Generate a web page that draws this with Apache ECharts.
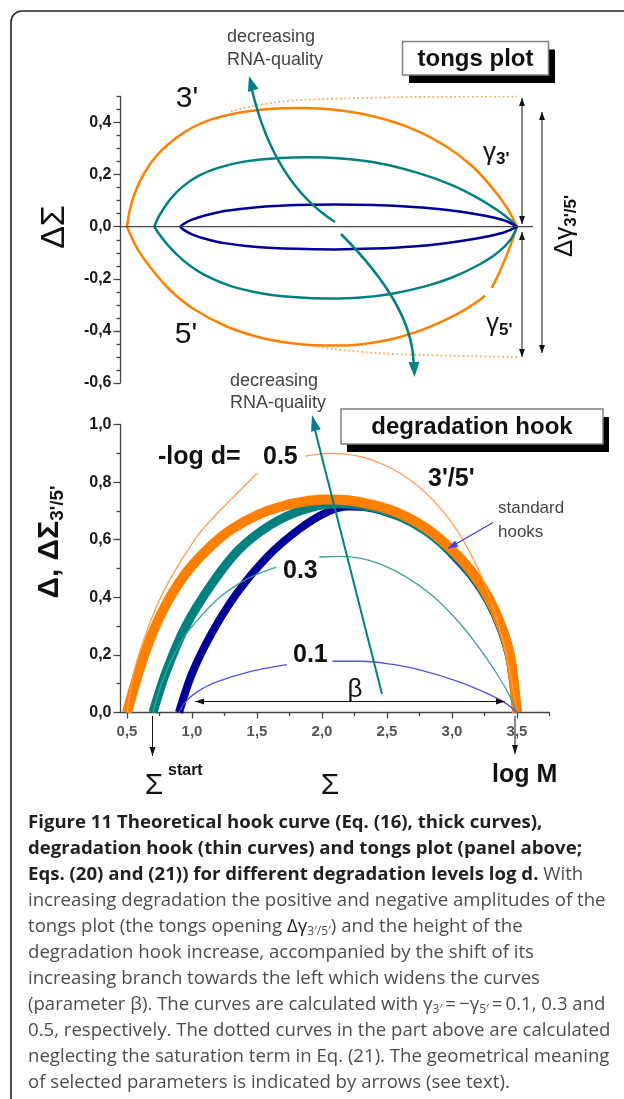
<!DOCTYPE html>
<html>
<head>
<meta charset="utf-8">
<script src="https://cdn.jsdelivr.net/npm/echarts@6/dist/echarts.min.js"></script>
<style>
  html, body { margin: 0; padding: 0; background: #fff; }
  #chart { width: 624px; height: 1099px; }
</style>
</head>
<body>
<div id="chart"></div>
<script>
// ---- tongs plot (upper panel) ----
var tongsOrangeUpX = [0.5, 0.52, 0.55, 0.6, 0.67, 0.76, 0.88, 1.0, 1.15, 1.35, 1.6, 1.85, 2.1, 2.4, 2.7, 2.95, 3.15, 3.3, 3.42, 3.5];
var tongsOrangeUpY = [0, 0.06, 0.115, 0.175, 0.235, 0.29, 0.342, 0.38, 0.412, 0.437, 0.452, 0.456, 0.449, 0.423, 0.375, 0.31, 0.235, 0.155, 0.075, 0];
var tongsOrangeDownX = [0.5, 0.53, 0.58, 0.677, 0.831, 1.01, 1.267, 1.523, 1.75, 1.95, 2.15, 2.35, 2.55, 2.75, 2.95, 3.1, 3.215, 3.255, 3.28, 3.305, 3.36, 3.42, 3.47, 3.5];
var tongsOrangeDownY = [0, -0.035, -0.085, -0.155, -0.243, -0.315, -0.383, -0.425, -0.446, -0.455, -0.456, -0.448, -0.43, -0.4, -0.358, -0.318, -0.28, -0.264, null, -0.235, -0.18, -0.11, -0.045, 0];
var tongsDotUpX = [1.3, 1.45, 1.65, 1.85, 2.2, 2.6, 3.0, 3.5];
var tongsDotUpY = [0.443, 0.462, 0.478, 0.487, 0.493, 0.497, 0.499, 0.5];
var tongsDotDownX = [1.9, 2.1, 2.45, 2.8, 3.15, 3.5];
var tongsDotDownY = [-0.455, -0.47, -0.486, -0.493, -0.497, -0.5];
var tongsTealUpX = [0.71, 0.74, 0.78, 0.84, 0.93, 1.05, 1.2, 1.4, 1.65, 1.9, 2.15, 2.45, 2.75, 3.0, 3.2, 3.35, 3.45, 3.5];
var tongsTealUpY = [0, 0.035, 0.068, 0.11, 0.155, 0.195, 0.226, 0.25, 0.263, 0.267, 0.262, 0.243, 0.205, 0.16, 0.11, 0.063, 0.025, 0];
var tongsTealDownX = [0.71, 0.75, 0.8, 0.88, 0.98, 1.1, 1.3, 1.55, 1.8, 2.05, 2.3, 2.55, 2.8, 3.0, 3.2, 3.35, 3.45, 3.5];
var tongsTealDownY = [0, -0.03, -0.062, -0.105, -0.148, -0.186, -0.228, -0.257, -0.271, -0.276, -0.272, -0.256, -0.228, -0.195, -0.148, -0.1, -0.05, 0];
var tongsBlueUpX = [0.908, 0.94, 1.0, 1.1, 1.25, 1.5, 1.8, 2.1, 2.4, 2.7, 2.95, 3.2, 3.4, 3.5];
var tongsBlueUpY = [0, 0.012, 0.027, 0.043, 0.06, 0.075, 0.083, 0.085, 0.083, 0.076, 0.065, 0.047, 0.025, 0];
var tongsBlueDownX = [0.908, 0.94, 1.0, 1.1, 1.25, 1.5, 1.8, 2.1, 2.4, 2.7, 2.95, 3.2, 3.4, 3.5];
var tongsBlueDownY = [0, -0.013, -0.029, -0.046, -0.063, -0.078, -0.085, -0.087, -0.084, -0.076, -0.063, -0.044, -0.022, 0];

// ---- degradation hook (lower panel) ----
var hookThickOrangeX = [0.5, 0.6, 0.7, 0.8, 0.9, 1.0, 1.15, 1.3, 1.5, 1.7, 1.9, 2.05, 2.2, 2.4, 2.6, 2.8, 3.0, 3.15, 3.28, 3.38, 3.45, 3.5];
var hookThickOrangeY = [0, 0.155, 0.28, 0.375, 0.45, 0.51, 0.58, 0.635, 0.685, 0.717, 0.735, 0.74, 0.737, 0.72, 0.69, 0.64, 0.565, 0.49, 0.4, 0.3, 0.19, 0];
var hookThickTealX = [0.7, 0.8, 0.95, 1.15, 1.36, 1.6, 1.85, 2.1, 2.25, 2.4, 2.6, 2.8, 3.0, 3.15, 3.28, 3.38, 3.45, 3.5];
var hookThickTealY = [0, 0.14, 0.298, 0.445, 0.565, 0.65, 0.703, 0.725, 0.722, 0.71, 0.68, 0.63, 0.555, 0.48, 0.39, 0.29, 0.18, 0];
var hookThickBlueX = [0.9, 1.0, 1.15, 1.345, 1.58, 1.82, 2.05, 2.2, 2.35, 2.5, 2.7, 2.85, 3.0, 3.15, 3.28, 3.38, 3.45, 3.5];
var hookThickBlueY = [0, 0.135, 0.274, 0.414, 0.541, 0.635, 0.698, 0.715, 0.712, 0.695, 0.66, 0.615, 0.55, 0.475, 0.385, 0.285, 0.175, 0];
var hookThinOrangeX = [0.5, 0.55, 0.65, 0.77, 0.92, 1.08, 1.3, 1.5, 1.68, 1.87, 2.05, 2.28, 2.5, 2.7, 2.9, 3.05, 3.2, 3.32, 3.42, 3.5];
var hookThinOrangeY = [0, 0.135, 0.28, 0.41, 0.53, 0.635, 0.74, 0.83, null, 0.89, 0.9, 0.89, 0.855, 0.8, 0.715, 0.625, 0.5, 0.36, 0.2, 0];
var hookThinTealX = [0.7, 0.75, 0.8, 0.85, 0.95, 1.06, 1.2, 1.35, 1.5, 1.65, 1.8, 1.98, 2.15, 2.3, 2.45, 2.65, 2.85, 3.05, 3.2, 3.33, 3.43, 3.5];
var hookThinTealY = [0, 0.08, 0.14, 0.19, 0.27, 0.33, 0.395, 0.445, 0.48, 0.505, null, 0.54, 0.542, 0.535, 0.515, 0.47, 0.405, 0.315, 0.23, 0.145, 0.07, 0];
var hookThinBlueX = [0.9, 0.946, 1.05, 1.19, 1.446, 1.73, 1.9, 2.08, 2.3, 2.5, 2.738, 3.045, 3.29, 3.42, 3.5];
var hookThinBlueY = [0, 0.035, 0.075, 0.106, 0.142, 0.166, null, 0.178, 0.178, 0.17, 0.15, 0.108, 0.062, 0.03, 0];

// ---- ticks ----
var xMajorTicks = [0.5, 1.0, 1.5, 2.0, 2.5, 3.0, 3.5];
var xMinorTicks = [0.75, 1.25, 1.75, 2.25, 2.75, 3.25, 3.75];
var tongsMajorTicks = [-0.6, -0.4, -0.2, 0, 0.2, 0.4];
var tongsMinorTicks = [-0.55, -0.5, -0.45, -0.35, -0.3, -0.25, -0.15, -0.1, -0.05, 0.05, 0.1, 0.15, 0.25, 0.3, 0.35, 0.45, 0.5];
var hookMajorTicks = [0, 0.2, 0.4, 0.6, 0.8, 1.0];
var hookMinorTicks = [0.1, 0.3, 0.5, 0.7, 0.9];

var captionLines = [
  '{b|Figure 11 Theoretical hook curve (Eq. (16), thick curves),}',
  '{b|degradation hook (thin curves) and tongs plot (panel above;}',
  '{b|Eqs. (20) and (21)) for different degradation levels log d.} With',
  'increasing degradation the positive and negative amplitudes of the',
  'tongs plot (the tongs opening {d|Δγ}{s|3′/5′}) and the height of the',
  'degradation hook increase, accompanied by the shift of its',
  'increasing branch towards the left which widens the curves',
  '(parameter β). The curves are calculated with γ{s|3′}\u2009=\u2009−γ{s|5′}\u2009=\u20090.1, 0.3 and',
  '0.5, respectively. The dotted curves in the part above are calculated',
  'neglecting the saturation term in Eq. (21). The geometrical meaning',
  'of selected parameters is indicated by arrows (see text).'
];

var ORANGE = '#ff8000', TEAL = '#008080', BLUE = '#000099';
var FONT = 'Liberation Sans';
var CAP = 18.6;

function pairs(xs, ys) {
  return xs.map(function (x, i) { return [x, ys[i]]; });
}

function curve(xs, ys, color, width, upper, opts) {
  opts = opts || {};
  return {
    type: 'line',
    xAxisIndex: upper ? 0 : 1,
    yAxisIndex: upper ? 0 : 2,
    data: pairs(xs, ys),
    showSymbol: false,
    symbol: 'none',
    smooth: 0.3,
    connectNulls: false,
    z: opts.z || 2,
    lineStyle: { color: color, width: width, type: opts.type || 'solid', cap: opts.cap || 'butt' },
    silent: true
  };
}

function commaFmt(v) {
  return v.toFixed(1).replace('.', ',');
}

function arrowHead(tip, from, len, hw, color) {
  var dx = tip[0] - from[0], dy = tip[1] - from[1];
  var d = Math.sqrt(dx * dx + dy * dy);
  dx /= d; dy /= d;
  var bx = tip[0] - dx * len, by = tip[1] - dy * len;
  return {
    type: 'polygon', z: 60,
    shape: { points: [tip, [bx - dy * hw, by + dx * hw], [bx + dy * hw, by - dx * hw]] },
    style: { fill: color }
  };
}

function arrow(p1, p2, color, width, both, len, hw) {
  var out = [{
    type: 'line', z: 60,
    shape: { x1: p1[0], y1: p1[1], x2: p2[0], y2: p2[1] },
    style: { stroke: color, lineWidth: width }
  }];
  out.push(arrowHead(p2, p1, len, hw, color));
  if (both) out.push(arrowHead(p1, p2, len, hw, color));
  return out;
}

function text(x, y, str, size, opts) {
  opts = opts || {};
  return {
    type: 'text', x: x, y: y, z: 70,
    rotation: opts.rotation || 0,
    style: {
      text: str,
      fontSize: size,
      fontFamily: opts.family || FONT,
      fontWeight: opts.weight || 'normal',
      fill: opts.color || '#111',
      align: opts.align || 'left',
      verticalAlign: 'middle',
      rich: opts.rich
    }
  };
}

var graphics = [];
// frame
graphics.push({ type: 'rect', z: 1, shape: { x: 11, y: 11, width: 700, height: 1200, r: 11 },
  style: { fill: 'none', stroke: '#222', lineWidth: 1.6 } });

// title boxes with drop shadow
graphics.push({ type: 'rect', z: 50, shape: { x: 409, y: 49.5, width: 146, height: 33.5 }, style: { fill: '#000' } });
graphics.push({ type: 'rect', z: 51, shape: { x: 402.5, y: 41.5, width: 146, height: 33.5 }, style: { fill: '#fff', stroke: '#808080', lineWidth: 1.5 } });
graphics.push(text(475.5, 59, 'tongs plot', 24, { weight: 'bold', align: 'center' }));
graphics.push({ type: 'rect', z: 50, shape: { x: 347, y: 417, width: 262, height: 35 }, style: { fill: '#000' } });
graphics.push({ type: 'rect', z: 51, shape: { x: 341, y: 409, width: 262, height: 35 }, style: { fill: '#fff', stroke: '#808080', lineWidth: 1.5 } });
graphics.push(text(472, 427, 'degradation hook', 24, { weight: 'bold', align: 'center' }));

// upper panel annotations
graphics.push({ type: 'line', z: 5, shape: { x1: 121, y1: 226.7, x2: 533, y2: 226.7 }, style: { stroke: '#444', lineWidth: 1.2 } });
graphics.push(text(227, 37, 'decreasing', 18, { color: '#444' }));
graphics.push(text(227, 60, 'RNA-quality', 18, { color: '#444' }));
graphics.push({ type: 'bezierCurve', z: 60, shape: { x1: 335, y1: 222, cpx1: 274, cpy1: 183, x2: 252, y2: 90 },
  style: { stroke: TEAL, lineWidth: 2.5, fill: 'none' } });
graphics.push(arrowHead([249, 76], [256, 100], 15, 5.5, TEAL));
graphics.push({ type: 'bezierCurve', z: 60, shape: { x1: 341, y1: 234, cpx1: 412, cpy1: 305, x2: 413.5, y2: 362 },
  style: { stroke: TEAL, lineWidth: 2.5, fill: 'none' } });
graphics.push(arrowHead([414.5, 377], [413.5, 350], 15, 5.5, TEAL));
arrow([522, 98], [522, 224], '#111', 1, true, 8, 3).forEach(function (g) { graphics.push(g); });
arrow([522, 232], [522, 357], '#111', 1, true, 8, 3).forEach(function (g) { graphics.push(g); });
arrow([542, 112], [542, 353], '#111', 1, true, 8, 3).forEach(function (g) { graphics.push(g); });
var gRich = {
  g: { fontSize: 26, fontFamily: FONT, fill: '#111', lineHeight: 30 },
  s: { fontSize: 17, fontFamily: FONT, fontWeight: 'bold', fill: '#111', lineHeight: 17, padding: [13, 0, 0, 0] }
};
graphics.push(text(483, 153, '{g|γ}{s|3\'}', 26, { rich: gRich }));
graphics.push(text(486, 324, '{g|γ}{s|5\'}', 26, { rich: gRich }));
graphics.push(text(565, 226, '{g|Δγ}{s|3\'/5\'}', 26, { rich: gRich, rotation: Math.PI / 2, align: 'center' }));
graphics.push(text(187, 99, '3\'', 30, { align: 'center' }));
graphics.push(text(186, 335, '5\'', 30, { align: 'center' }));
graphics.push(text(55, 227, 'ΔΣ', 34, { align: 'center', rotation: Math.PI / 2 }));

// lower panel annotations
graphics.push(text(230, 381, 'decreasing', 18, { color: '#444' }));
graphics.push(text(230, 403, 'RNA-quality', 18, { color: '#444' }));
graphics.push({ type: 'line', z: 60, shape: { x1: 382, y1: 694, x2: 315, y2: 430 }, style: { stroke: TEAL, lineWidth: 2 } });
graphics.push(arrowHead([312, 415], [382, 694], 16, 5, TEAL));
graphics.push(text(158, 457, '-log d=', 25, { weight: 'bold' }));
graphics.push(text(263, 457, '0.5', 25, { weight: 'bold' }));
graphics.push(text(283, 571, '0.3', 25, { weight: 'bold' }));
graphics.push(text(293, 655, '0.1', 25, { weight: 'bold' }));
graphics.push(text(428, 479, '3\'/5\'', 25, { weight: 'bold' }));
graphics.push(text(498, 508, 'standard', 17, { color: '#444' }));
graphics.push(text(498, 532, 'hooks', 17, { color: '#444' }));
arrow([493, 522.5], [448, 548.5], '#3c3cff', 1.3, false, 10, 3.5).forEach(function (g) { graphics.push(g); });
arrow([195, 701.5], [505, 701.5], '#111', 1, true, 9, 3).forEach(function (g) { graphics.push(g); });
graphics.push(text(355, 690, 'β', 26, { align: 'center' }));
arrow([152.5, 716], [152.5, 756], '#111', 1, false, 9, 3).forEach(function (g) { graphics.push(g); });
arrow([515, 716], [515, 754], '#111', 1, false, 9, 3).forEach(function (g) { graphics.push(g); });
graphics.push(text(154, 786, 'Σ', 30, { align: 'center' }));
graphics.push(text(168, 771, 'start', 16, { weight: 'bold' }));
graphics.push(text(330, 786, 'Σ', 30, { align: 'center' }));
graphics.push(text(492, 775, 'log M', 25, { weight: 'bold' }));
graphics.push(text(50, 542, '{m|Δ, ΔΣ}{s|3\'/5\'}', 30, {
  rotation: Math.PI / 2, align: 'center',
  rich: {
    m: { fontSize: 30, fontFamily: FONT, fontWeight: 'bold', fill: '#111', lineHeight: 34 },
    s: { fontSize: 19, fontFamily: FONT, fontWeight: 'bold', fill: '#111', lineHeight: 19, padding: [15, 0, 0, 0] }
  }
}));

// caption
var capRich = {
  b: { fontSize: CAP, fontFamily: 'Open Sans', fontWeight: 'bold', fill: '#231f20', lineHeight: 26 },
  d: { fontSize: CAP, fontFamily: 'Open Sans', fill: '#231f20', lineHeight: 26 },
  s: { fontSize: 12, fontFamily: 'Open Sans', fill: '#4d4d4d', lineHeight: 12, padding: [10, 0, 0, 0] }
};
captionLines.forEach(function (line, i) {
  graphics.push(text(28, 823 + i * 26, line, CAP, { family: 'Open Sans', color: '#4d4d4d', rich: capRich }));
});

var axisLineStyle = { color: '#444', width: 1.3 };

var option = {
  animation: false,
  backgroundColor: '#fff',
  grid: [
    { left: 120.5, top: 96.5, width: 429, height: 286.5 },
    { left: 120.5, top: 424.5, width: 429, height: 288 }
  ],
  xAxis: [
    { gridIndex: 0, type: 'value', min: 0.45, max: 3.75, show: false },
    {
      gridIndex: 1, type: 'value', min: 0.45, max: 3.75, position: 'bottom',
      axisLine: { onZero: false, lineStyle: axisLineStyle },
      axisTick: { customValues: xMajorTicks, length: 6, lineStyle: axisLineStyle },
      axisLabel: { customValues: xMajorTicks, formatter: commaFmt, margin: 12,
        fontSize: 15, fontWeight: 'bold', fontFamily: FONT, color: '#555' },
      splitLine: { show: false }
    },
    {
      gridIndex: 1, type: 'value', min: 0.45, max: 3.75, position: 'bottom',
      axisLine: { show: false },
      axisTick: { customValues: xMinorTicks, length: 3.5, lineStyle: axisLineStyle },
      axisLabel: { show: false },
      splitLine: { show: false }
    }
  ],
  yAxis: [
    {
      gridIndex: 0, type: 'value', min: -0.6, max: 0.5, position: 'left',
      axisLine: { show: true, onZero: false, lineStyle: axisLineStyle },
      axisTick: { show: true, customValues: tongsMajorTicks, length: 7, lineStyle: axisLineStyle },
      axisLabel: { customValues: tongsMajorTicks, formatter: commaFmt, margin: 9,
        fontSize: 16, fontWeight: 'bold', fontFamily: FONT, color: '#1a1a1a' },
      splitLine: { show: false }
    },
    {
      gridIndex: 0, type: 'value', min: -0.6, max: 0.5, position: 'left',
      axisLine: { show: false },
      axisTick: { show: true, customValues: tongsMinorTicks, length: 4, lineStyle: axisLineStyle },
      axisLabel: { show: false },
      splitLine: { show: false }
    },
    {
      gridIndex: 1, type: 'value', min: 0, max: 1, position: 'left',
      axisLine: { show: true, onZero: false, lineStyle: axisLineStyle },
      axisTick: { show: true, customValues: hookMajorTicks, length: 7, lineStyle: axisLineStyle },
      axisLabel: { customValues: hookMajorTicks, formatter: commaFmt, margin: 9,
        fontSize: 16, fontWeight: 'bold', fontFamily: FONT, color: '#1a1a1a' },
      splitLine: { show: false }
    },
    {
      gridIndex: 1, type: 'value', min: 0, max: 1, position: 'left',
      axisLine: { show: false },
      axisTick: { show: true, customValues: hookMinorTicks, length: 4, lineStyle: axisLineStyle },
      axisLabel: { show: false },
      splitLine: { show: false }
    }
  ],
  series: [
    curve(tongsDotUpX, tongsDotUpY, '#ffa860', 1.8, true, { type: [1.8, 2.6] }),
    curve(tongsDotDownX, tongsDotDownY, '#ffa860', 1.8, true, { type: [1.8, 2.6] }),
    curve(tongsOrangeUpX, tongsOrangeUpY, ORANGE, 2.5, true),
    curve(tongsOrangeDownX, tongsOrangeDownY, ORANGE, 2.5, true),
    curve(tongsTealUpX, tongsTealUpY, TEAL, 2.5, true),
    curve(tongsTealDownX, tongsTealDownY, TEAL, 2.5, true),
    curve(tongsBlueUpX, tongsBlueUpY, BLUE, 2.5, true),
    curve(tongsBlueDownX, tongsBlueDownY, BLUE, 2.5, true),

    curve(hookThickBlueX, hookThickBlueY, BLUE, 8, false),
    curve(hookThickTealX, hookThickTealY, TEAL, 9, false, { z: 3 }),
    curve(hookThickOrangeX, hookThickOrangeY, ORANGE, 10, false, { z: 4 }),
    curve(hookThinOrangeX, hookThinOrangeY, '#ff9a50', 1.3, false, { z: 5 }),
    curve(hookThinTealX, hookThinTealY, '#40a29a', 1.3, false, { z: 5 }),
    curve(hookThinBlueX, hookThinBlueY, '#5050e6', 1.3, false, { z: 5 })
  ],
  graphic: { elements: graphics }
};

var chart = echarts.init(document.getElementById('chart'), null, { renderer: 'canvas' });
chart.setOption(option);
</script>
</body>
</html>
